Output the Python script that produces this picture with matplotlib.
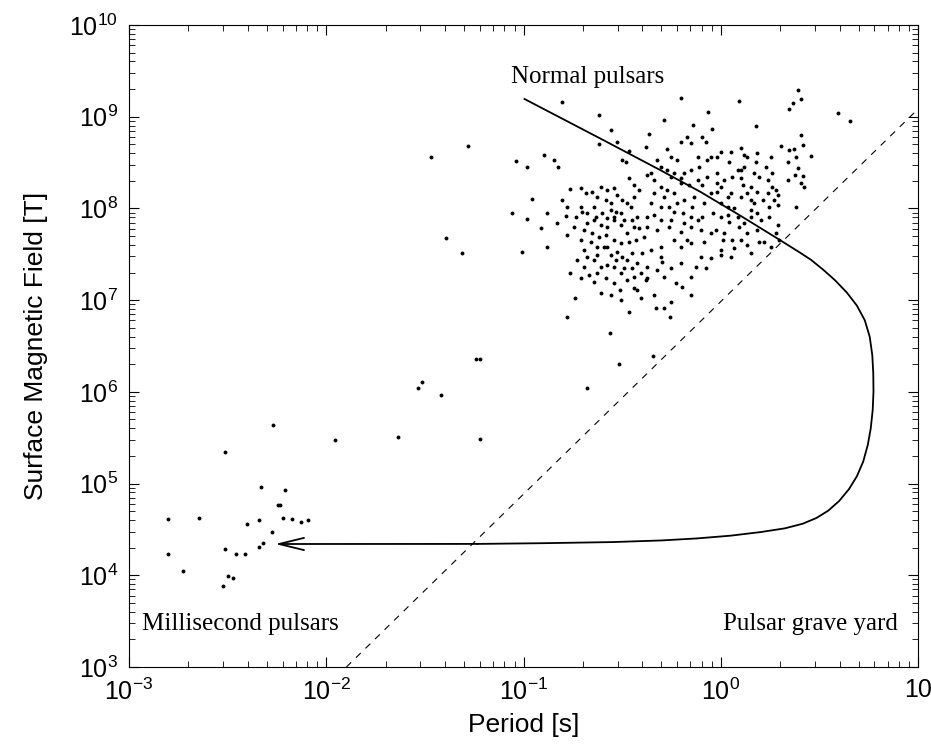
import numpy as np
import matplotlib
matplotlib.use('Agg')
import matplotlib.pyplot as plt
from matplotlib import rcParams

rcParams['font.family'] = 'Liberation Sans'
rcParams['mathtext.fontset'] = 'custom'
rcParams['mathtext.rm'] = 'Liberation Sans'
rcParams['xtick.direction'] = 'in'
rcParams['ytick.direction'] = 'in'

# values, stored as log10(P [s]) and log10(B [T])
msp_logP = [-2.269, -2.513, -2.330, -2.208, -2.244, -2.234, -2.802, -2.645, -2.401, -2.340,
            -2.218, -2.173, -2.127, -2.091, -2.274, -2.320, -2.340, -2.513, -2.457, -2.411,
            -2.802, -2.726, -2.497, -2.472, -2.523]
msp_logB = [5.638, 5.344, 4.962, 4.929, 4.766, 4.766, 4.613, 4.624, 4.558, 4.602,
            4.624, 4.613, 4.580, 4.602, 4.471, 4.351, 4.308, 4.286, 4.231, 4.231,
            4.231, 4.046, 3.991, 3.970, 3.882]

mid_logP = [-1.239, -1.223, -1.513, -1.533, -1.416, -1.954, -1.635, -1.223, -1.467, -1.284,
            -1.393, -1.310, -0.738, -0.778, -0.562, -0.518, -0.345, -0.680]
mid_logB = [6.358, 6.358, 6.107, 6.041, 5.965, 5.474, 5.507, 5.485, 8.564, 8.680,
            7.680, 7.510, 7.019, 6.819, 6.637, 6.300, 6.390, 6.040]

normal_logP = [
    -1.036, -0.982, -0.894, -0.846, -0.824, -0.807, -0.619, -0.558, -0.528, -0.619,
    -0.465, -0.499, -0.479, -0.765, -0.959, -1.058, -0.982, -0.914, -0.883, -0.829,
    -0.787, -1.007, -0.465, -0.406, -0.339, -0.330, -0.288, -0.257, -0.250,
    -0.711, -0.609, -0.575, -0.542, -0.465, -0.440, -0.415, -0.711, -0.702, -0.643,
    -0.601, -0.558, -0.542, -0.508, -0.474, -0.440, -0.677, -0.643, -0.609, -0.575,
    -0.542, -0.508, -0.474, -0.440, -0.415, -0.694, -0.660, -0.626, -0.592, -0.558,
    -0.525, -0.474, -0.423, -0.694, -0.643, -0.609, -0.575, -0.542, -0.508, -0.474,
    -0.440, -0.406, -0.372, -0.322, -0.288, -0.254, -0.229, -0.195, -0.152, -0.372,
    -0.296, -0.203, -0.127, -0.511, -0.440, -0.381,
    -0.200, 0.093, 0.389, 0.364, 0.347, 0.406, 0.592, 0.657, -0.063, -0.288,
    0.178, -0.140, -0.046, -0.364, -0.169, -0.093, -0.076, -0.152, -0.203, -0.271,
    -0.381, 0.406, 0.305, 0.347, 0.372, 0.415, 0.457, 0.381, 0.339, 0.389,
    0.376, 0.415, 0.339, 0.406, 0.423, 0.381,
    0.000, -0.017, -0.051, 0.051, 0.102, 0.119, 0.135, 0.178, 0.042, 0.085,
    0.119, -0.068, -0.110, -0.152, -0.220, -0.186, -0.237, -0.271, -0.304, -0.355,
    -0.372, -0.304, -0.254, -0.203, -0.161, -0.118, -0.068, -0.017, 0.017, 0.059,
    0.102, 0.169, 0.195, 0.229, 0.237, 0.262, 0.279, 0.288, 0.271, 0.288,
    0.237, 0.186, 0.135, 0.152, 0.169, 0.102, 0.051, 0.000, -0.017, 0.034,
    -0.051, -0.085, -0.135, -0.186, -0.237, -0.288, -0.338, -0.355, -0.304, -0.262,
    -0.220, -0.144, -0.093, -0.118, -0.042, 0.000, 0.034, 0.042, 0.085, 0.119,
    0.152, 0.186, 0.203, 0.135, 0.102, 0.059, 0.009, -0.051, -0.101, -0.152,
    -0.186, -0.254, -0.304, -0.338, -0.372, -0.389, -0.355, -0.304, -0.237, -0.203,
    -0.152, -0.101, -0.051, 0.000, 0.051, 0.288, 0.296, 0.245,
    -0.076, -0.152, 0.000,
    -0.685, -0.652, -0.626, -0.584, -0.558, -0.525, -0.499, -0.457, -0.423, -0.677,
    -0.635, -0.575, -0.533, -0.491, -0.449, -0.694, -0.652, -0.618, -0.584, -0.542,
    -0.508, -0.465, -0.432, -0.711, -0.677, -0.626, -0.575, -0.533, -0.499, -0.449,
    -0.668, -0.626, -0.584, -0.542, -0.491, -0.449, -0.423, -0.711, -0.643, -0.609,
    -0.558, -0.508,
    -0.804, -0.778, -0.745, -0.736, -0.778, -0.728, -0.762, -0.880,
    -0.203, -0.093, -0.017, 0.000, 0.102, 0.110, 0.152, 0.034, 0.068, -0.194,
    -0.152, -0.237, -0.262, -0.321, -0.372, -0.203, -0.169, -0.085, -0.025, 0.017,
    0.093, 0.186, 0.195, 0.068, 0.135, 0.152, 0.220, 0.254, 0.279, -0.118,
    -0.254, -0.321, -0.338, -0.271, 0.186, 0.254, 0.262, 0.212, 0.245, 0.152,
    -0.304, -0.398]
normal_logB = [
    8.517, 8.448, 8.582, 8.527, 8.448, 9.156, 9.018, 8.855, 8.727, 8.698,
    8.629, 8.527, 8.509, 8.211, 8.099, 7.946, 7.880, 7.782, 7.946, 7.844,
    7.917, 7.528, 6.874, 7.019, 7.055, 6.910, 6.910, 6.819, 6.983,
    8.218, 8.237, 8.200, 8.218, 8.328, 8.255, 8.200, 8.019, 7.964, 8.019,
    7.946, 7.982, 7.910, 7.946, 8.055, 8.128, 7.837, 7.873, 7.819, 7.800,
    7.873, 7.819, 7.728, 7.800, 7.782, 7.546, 7.637, 7.582, 7.582, 7.491,
    7.528, 7.437, 7.401, 7.364, 7.437, 7.364, 7.382, 7.364, 7.292, 7.219,
    7.255, 7.292, 7.237, 7.328, 7.255, 7.346, 7.183, 7.146, 7.255, 7.364,
    7.419, 7.401, 7.364, 7.110, 7.128, 7.219,
    9.200, 9.171, 9.291, 9.145, 9.080, 9.189, 9.044, 8.956, 9.047, 8.964,
    8.898, 8.906, 8.866, 8.811, 8.782, 8.775, 8.727, 8.709, 8.727, 8.644,
    8.666, 8.800, 8.680, 8.637, 8.644, 8.691, 8.571, 8.564, 8.509, 8.437,
    8.364, 8.357, 8.309, 8.273, 8.237, 8.019,
    8.618, 8.564, 8.564, 8.618, 8.655, 8.582, 8.564, 8.509, 8.509, 8.418,
    8.455, 8.527, 8.455, 8.418, 8.527, 8.382, 8.382, 8.418, 8.455, 8.382,
    8.364, 8.237, 8.346, 8.273, 8.255, 8.309, 8.346, 8.382, 8.309, 8.346,
    8.328, 8.382, 8.346, 8.455, 8.309, 8.237, 8.200, 8.146, 8.091, 8.037,
    8.164, 8.182, 8.164, 8.091, 8.055, 8.128, 8.164, 8.237, 8.182, 8.128,
    8.164, 8.055, 8.128, 8.091, 8.164, 8.128, 8.164, 8.055, 8.019, 8.019,
    8.055, 8.019, 7.910, 7.873, 7.946, 7.910, 7.928, 7.855, 7.910, 7.837,
    7.910, 7.946, 7.873, 7.728, 7.655, 7.655, 7.655, 7.728, 7.764, 7.800,
    7.837, 7.873, 7.873, 7.928, 7.910, 7.691, 7.546, 7.473, 7.655, 7.582,
    7.619, 7.473, 7.455, 7.546, 7.473, 7.819, 7.655, 7.910,
    7.350, 7.056, 7.492,
    8.164, 8.182, 8.128, 8.091, 8.055, 8.146, 8.091, 8.019, 7.910, 7.946,
    7.910, 7.891, 7.964, 7.873, 7.873, 7.764, 7.728, 7.691, 7.710, 7.655,
    7.619, 7.637, 7.655, 7.655, 7.473, 7.491, 7.582, 7.437, 7.473, 7.510,
    7.273, 7.292, 7.237, 7.183, 7.346, 7.346, 7.110, 7.237, 7.201, 7.073,
    7.055, 7.001,
    8.091, 8.019, 7.800, 7.910, 7.710, 7.437, 7.292, 7.582,
    8.328, 8.255, 8.273, 8.055, 8.418, 8.255, 8.237, 8.019, 8.000, 7.946,
    7.910, 7.964, 7.800, 7.764, 7.800, 7.746, 7.655, 7.637, 7.764, 7.728,
    7.800, 7.764, 7.637, 7.564, 7.600, 7.510, 7.637, 7.582, 7.728, 8.564,
    8.564, 8.527, 8.309, 8.200, 8.600, 8.564, 8.382, 8.091, 8.019, 7.982,
    7.582, 7.510]

# evolutionary track (solid) and death line (dashed)
track_logP = [-0.995, -0.600, -0.300, -0.102, 0.100, 0.300, 0.400, 0.457, 0.520, 0.580,
              0.640, 0.690, 0.730, 0.755, 0.768, 0.773, 0.774, 0.770, 0.760, 0.745,
              0.722, 0.690, 0.650, 0.600, 0.545, 0.485, 0.415, 0.325, 0.205, 0.050,
              -0.120, -0.300, -0.550, -0.900, -1.234, -2.259]
track_logB = [9.193, 8.750, 8.410, 8.179, 7.920, 7.655, 7.520, 7.440, 7.330, 7.215,
              7.080, 6.940, 6.780, 6.600, 6.400, 6.200, 6.000, 5.800, 5.600, 5.420,
              5.240, 5.080, 4.940, 4.810, 4.705, 4.625, 4.562, 4.512, 4.472, 4.432,
              4.402, 4.380, 4.362, 4.350, 4.342, 4.341]
death_logP = [-1.898, 1.0]
death_logB = [3.0, 9.084]

xtick_vals = [1e-3, 1e-2, 1e-1, 1e0, 1e1]
xtick_labels = [r'$\mathdefault{10^{-3}}$', r'$\mathdefault{10^{-2}}$', r'$\mathdefault{10^{-1}}$',
                r'$\mathdefault{10^{0}}$', '10']
ytick_vals = [10.0**k for k in range(3, 11)]
ytick_labels = [r'$\mathdefault{10^{%d}}$' % k for k in range(3, 11)]

fig = plt.figure(figsize=(9.31, 7.46), dpi=100)
ax = fig.add_axes([0.1386, 0.1059, 0.8475, 0.8606])

P = 10.0**np.array(normal_logP + mid_logP + msp_logP)
B = 10.0**np.array(normal_logB + mid_logB + msp_logB)
ax.plot(P, B, 'o', color='k', markersize=2.8, markeredgewidth=0)

tP = 10.0**np.array(track_logP)
tB = 10.0**np.array(track_logB)
ax.plot(tP[:-1], tB[:-1], '-', color='k', lw=1.3)
ax.annotate('', xy=(tP[-1], tB[-1]), xytext=(tP[-2], tB[-2]),
            arrowprops=dict(arrowstyle='->,head_length=0.9,head_width=0.22',
                            mutation_scale=20, lw=1.3, color='k', shrinkA=0, shrinkB=0))

ax.plot(10.0**np.array(death_logP), 10.0**np.array(death_logB), '--', color='k',
        lw=0.8, dashes=(6, 6))

ax.set_xscale('log')
ax.set_yscale('log')
ax.set_xlim(1e-3, 10)
ax.set_ylim(1e3, 1e10)
ax.set_xticks(xtick_vals)
ax.set_xticklabels(xtick_labels)
ax.set_yticks(ytick_vals)
ax.set_yticklabels(ytick_labels)
ax.tick_params(which='both', top=True, right=True, labelsize=18, pad=8)
ax.tick_params(which='major', length=7, width=0.8)
ax.tick_params(which='minor', length=4, width=0.6)
for sp in ax.spines.values():
    sp.set_linewidth(0.8)

ax.set_xlabel('Period [s]', fontsize=19, labelpad=6)
ax.set_ylabel('Surface Magnetic Field [T]', fontsize=19, labelpad=15)

ax.text(10**-1.066, 10**9.433, 'Normal pulsars', family='Liberation Serif', fontsize=18,
        ha='left', va='center')
ax.text(10**-2.934, 10**3.468, 'Millisecond pulsars', family='Liberation Serif', fontsize=18,
        ha='left', va='center')
ax.text(10**0.898, 10**3.468, 'Pulsar grave yard', family='Liberation Serif', fontsize=18,
        ha='right', va='center')

fig.savefig('out.png', dpi=100)
